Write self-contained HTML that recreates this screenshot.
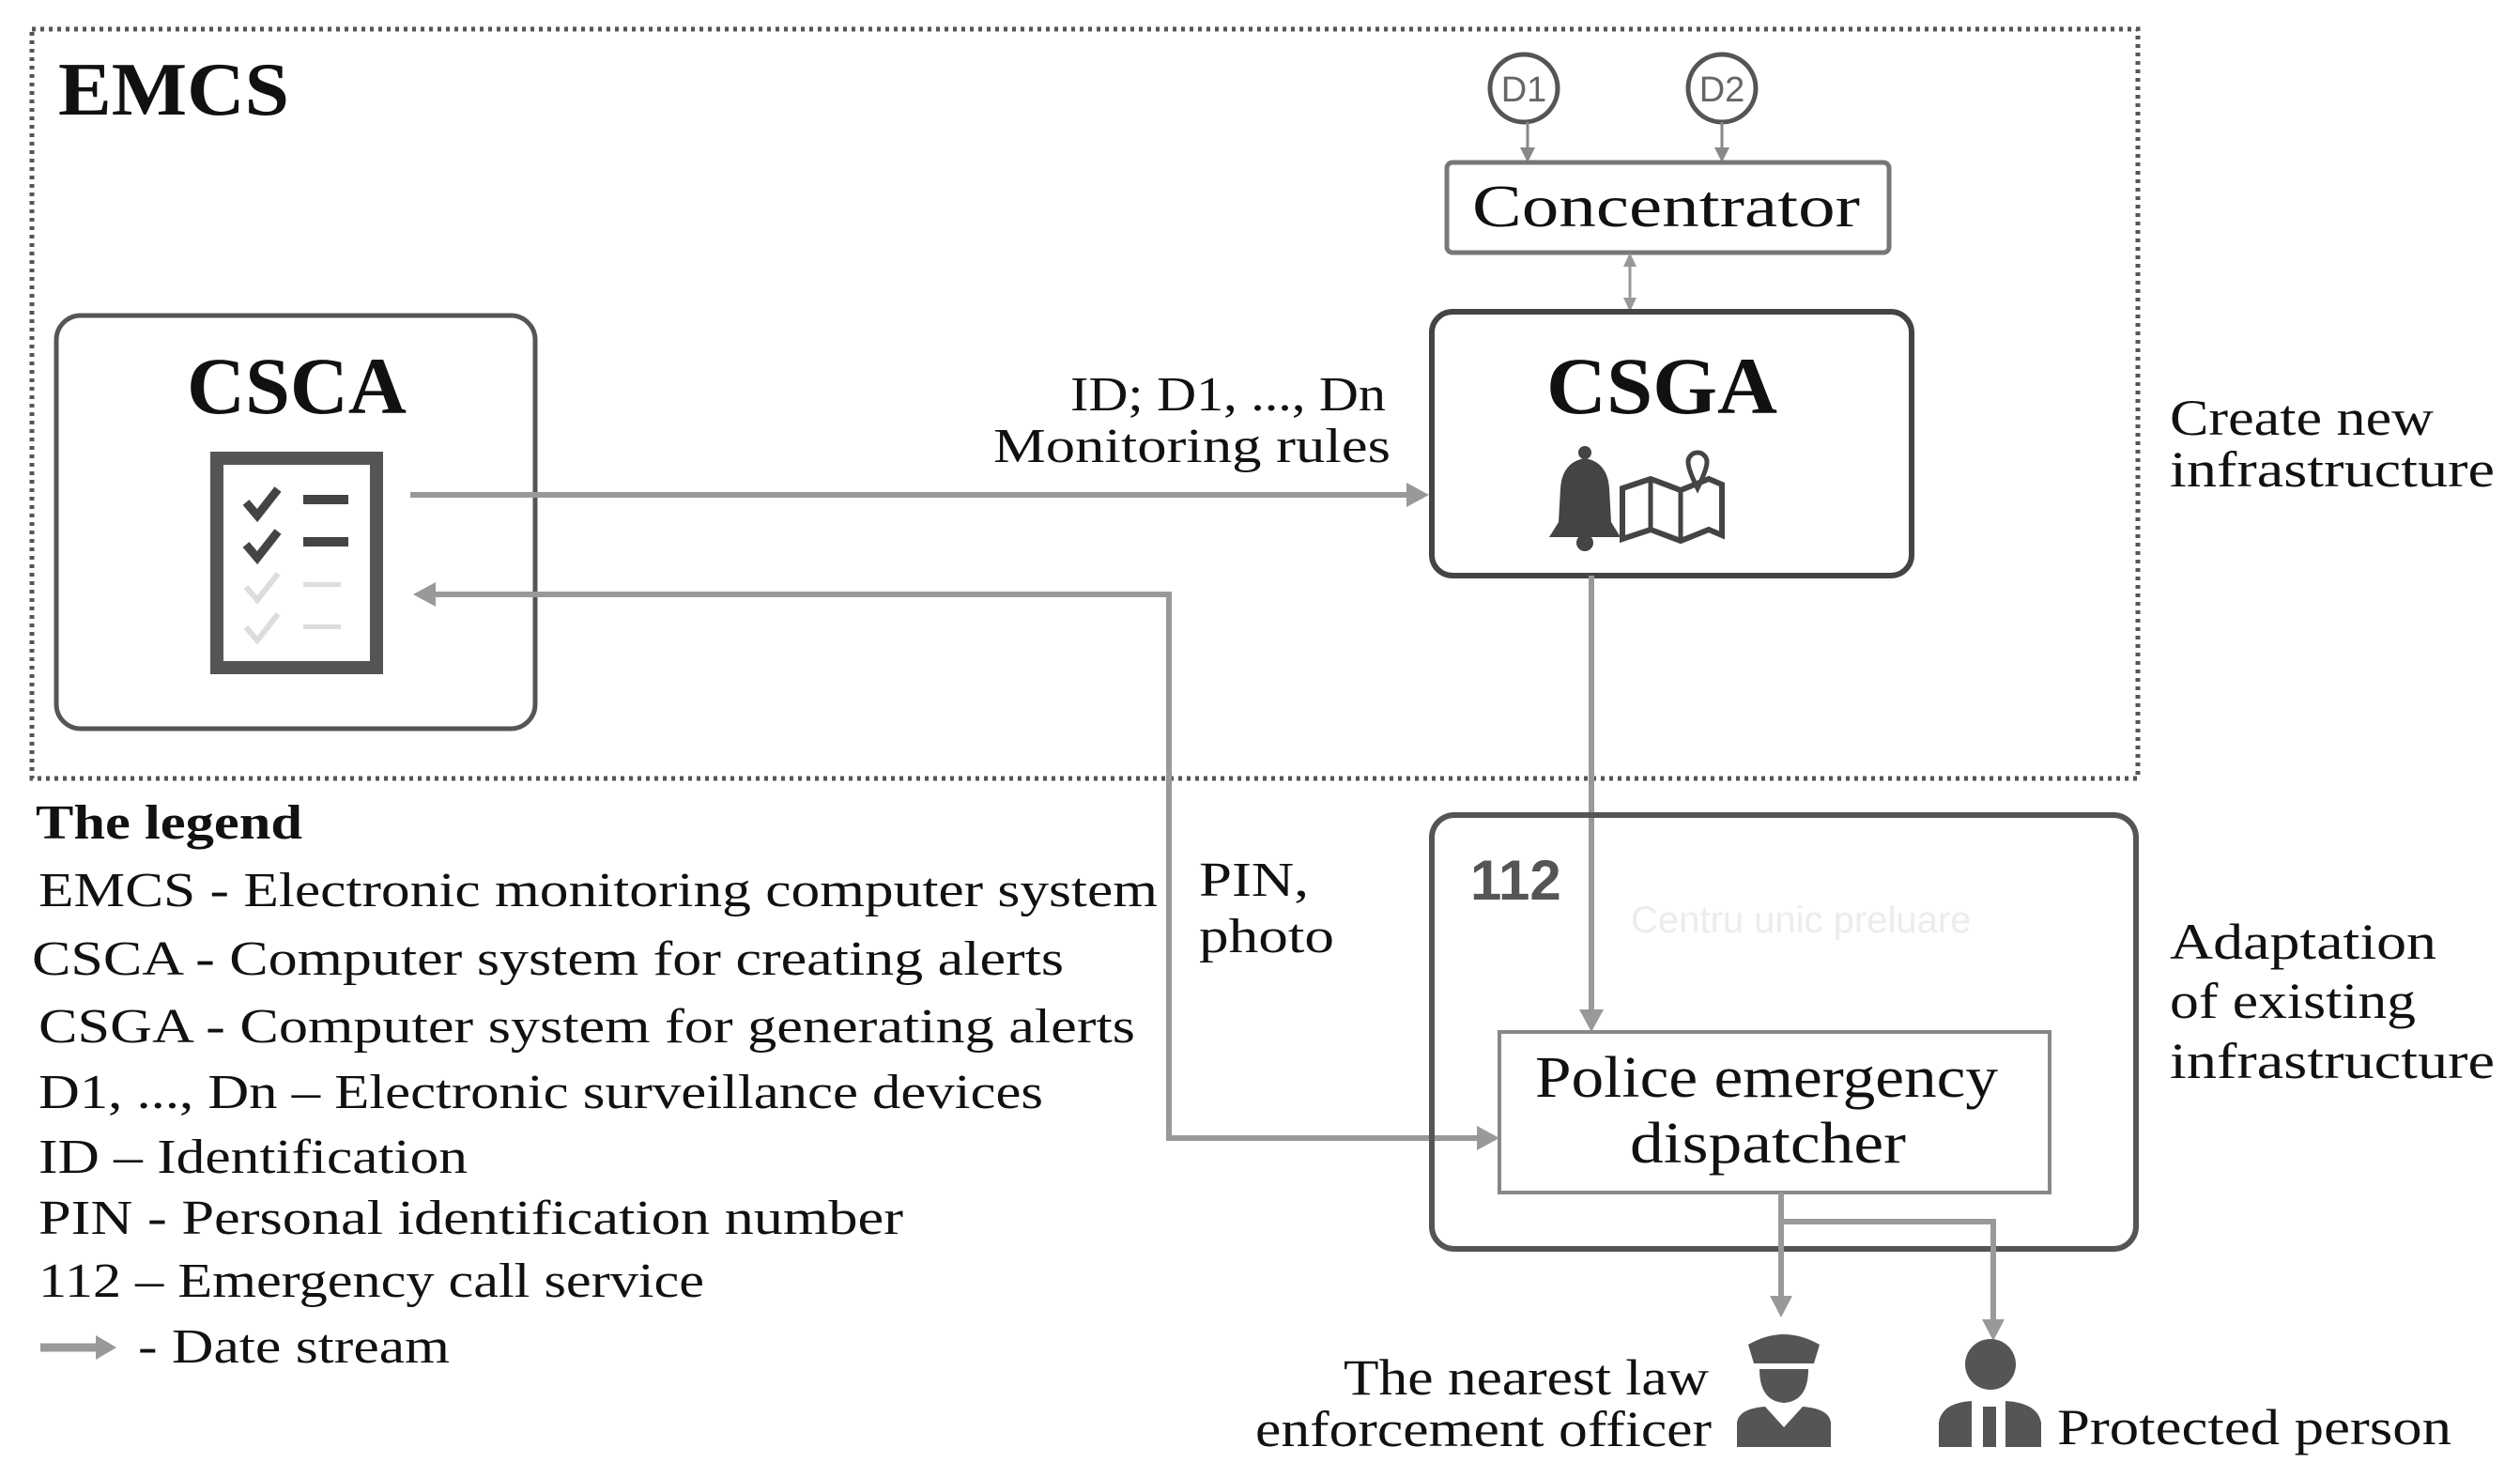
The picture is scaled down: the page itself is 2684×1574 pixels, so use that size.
<!DOCTYPE html>
<html><head><meta charset="utf-8"><style>
html,body{margin:0;padding:0;background:#fff;}
svg{display:block;}
text{font-family:"Liberation Serif",serif;fill:#111;}
</style></head><body>
<svg width="2684" height="1574" viewBox="0 0 2684 1574" xmlns="http://www.w3.org/2000/svg">
<defs>
<marker id="ah" markerWidth="10" markerHeight="10" refX="8" refY="5" orient="auto" markerUnits="userSpaceOnUse" viewBox="0 0 10 10">
</marker>
</defs>
<!-- EMCS dotted box -->
<rect x="34" y="31" width="2243" height="798" fill="none" stroke="#555" stroke-width="5" stroke-dasharray="4 5"/>
<text x="62" y="122" font-size="80" font-weight="bold" textLength="246" lengthAdjust="spacingAndGlyphs">EMCS</text>

<!-- CSCA -->
<rect x="60" y="336" width="510" height="440" rx="26" fill="none" stroke="#555" stroke-width="5"/>
<text x="199" y="440" font-size="86" font-weight="bold" textLength="234" lengthAdjust="spacingAndGlyphs">CSCA</text>
<rect x="231" y="488" width="170" height="223" fill="none" stroke="#555" stroke-width="14"/>
<path d="M262 535 l12 14 l22 -28" fill="none" stroke="#444" stroke-width="9"/>
<rect x="323" y="527" width="48" height="10" fill="#444"/>
<path d="M262 580 l12 14 l22 -28" fill="none" stroke="#444" stroke-width="9"/>
<rect x="323" y="572" width="48" height="10" fill="#444"/>
<path d="M262 625 l12 14 l22 -28" fill="none" stroke="#ddd" stroke-width="6"/>
<rect x="323" y="620" width="40" height="5" fill="#ddd"/>
<path d="M262 668 l12 14 l22 -28" fill="none" stroke="#ddd" stroke-width="6"/>
<rect x="323" y="665" width="40" height="5" fill="#ddd"/>

<!-- arrow CSCA -> CSGA -->
<line x1="437" y1="527" x2="1500" y2="527" stroke="#999" stroke-width="6"/>
<polygon points="1522,527 1498,514 1498,540" fill="#999"/>
<text x="1476" y="437" font-size="52" text-anchor="end" textLength="336" lengthAdjust="spacingAndGlyphs">ID; D1, ..., Dn</text>
<text x="1481" y="492" font-size="52" text-anchor="end" textLength="423" lengthAdjust="spacingAndGlyphs">Monitoring rules</text>

<!-- return path -->
<polyline points="1592,1212 1245,1212 1245,633 460,633" fill="none" stroke="#999" stroke-width="6"/>
<polygon points="440,633 464,620 464,646" fill="#999"/>
<polygon points="1597,1212 1573,1199 1573,1225" fill="#999"/>
<text x="1277" y="954" font-size="52" textLength="117" lengthAdjust="spacingAndGlyphs">PIN,</text>
<text x="1277" y="1014" font-size="52" textLength="144" lengthAdjust="spacingAndGlyphs">photo</text>

<!-- D1 D2 -->
<circle cx="1623" cy="94" r="36" fill="#fff" stroke="#555" stroke-width="5"/>
<text x="1623" y="108" font-size="38" text-anchor="middle" font-family="Liberation Sans" style="font-family:'Liberation Sans',sans-serif;fill:#666">D1</text>
<circle cx="1834" cy="94" r="36" fill="#fff" stroke="#555" stroke-width="5"/>
<text x="1834" y="108" font-size="38" text-anchor="middle" style="font-family:'Liberation Sans',sans-serif;fill:#666">D2</text>
<line x1="1627" y1="130" x2="1627" y2="160" stroke="#888" stroke-width="3"/>
<polygon points="1627,173 1619,157 1635,157" fill="#888"/>
<line x1="1834" y1="130" x2="1834" y2="160" stroke="#888" stroke-width="3"/>
<polygon points="1834,173 1826,157 1842,157" fill="#888"/>

<!-- Concentrator -->
<rect x="1541" y="173" width="471" height="96" rx="6" fill="#fff" stroke="#777" stroke-width="5"/>
<text x="1568" y="241" font-size="64" textLength="413" lengthAdjust="spacingAndGlyphs">Concentrator</text>
<line x1="1736" y1="282" x2="1736" y2="319" stroke="#999" stroke-width="3"/>
<polygon points="1736,269 1729,284 1743,284" fill="#999"/>
<polygon points="1736,332 1729,317 1743,317" fill="#999"/>

<!-- CSGA -->
<rect x="1525" y="332" width="511" height="281" rx="22" fill="#fff" stroke="#444" stroke-width="6"/>
<text x="1647" y="440" font-size="86" font-weight="bold" textLength="246" lengthAdjust="spacingAndGlyphs">CSGA</text>
<!-- bell -->
<path d="M1650 572 L1726 572 L1716 556 L1714 520 Q1712 492 1688 488 Q1664 492 1662 520 L1660 556 Z" fill="#444"/>
<circle cx="1688" cy="482" r="7" fill="#444"/>
<circle cx="1688" cy="578" r="9" fill="#444"/>
<!-- map -->
<path d="M1728 520 L1758 510 L1790 522 L1820 510 L1834 516 L1834 570 L1820 564 L1790 576 L1758 564 L1728 574 Z" fill="none" stroke="#444" stroke-width="6"/>
<line x1="1758" y1="510" x2="1758" y2="564" stroke="#444" stroke-width="5"/>
<line x1="1790" y1="522" x2="1790" y2="576" stroke="#444" stroke-width="5"/>
<path d="M1808 520 Q1798 500 1798 492 A10 10 0 0 1 1818 492 Q1818 500 1808 520 Z" fill="none" stroke="#444" stroke-width="5"/>

<!-- CSGA to dispatcher -->
<line x1="1695" y1="613" x2="1695" y2="1078" stroke="#999" stroke-width="6"/>
<polygon points="1695,1099 1682,1075 1708,1075" fill="#999"/>

<text x="2311" y="463" font-size="54" textLength="281" lengthAdjust="spacingAndGlyphs">Create new</text>
<text x="2311" y="518" font-size="54" textLength="346" lengthAdjust="spacingAndGlyphs">infrastructure</text>

<!-- 112 box -->
<rect x="1525" y="868" width="750" height="462" rx="24" fill="none" stroke="#555" stroke-width="6"/>
<text x="1566" y="958" font-size="60" font-weight="bold" style="font-family:'Liberation Sans',sans-serif;fill:#555">112</text>
<text x="1737" y="993" font-size="40" style="font-family:'Liberation Sans',sans-serif;fill:#ececec">Centru unic preluare</text>
<rect x="1597" y="1099" width="586" height="171" fill="#fff" stroke="#888" stroke-width="4"/>
<text x="1635" y="1168" font-size="62" textLength="493" lengthAdjust="spacingAndGlyphs">Police emergency</text>
<text x="1736" y="1238" font-size="62" textLength="294" lengthAdjust="spacingAndGlyphs">dispatcher</text>

<text x="2311" y="1021" font-size="54" textLength="284" lengthAdjust="spacingAndGlyphs">Adaptation</text>
<text x="2311" y="1084" font-size="54" textLength="262" lengthAdjust="spacingAndGlyphs">of existing</text>
<text x="2311" y="1148" font-size="54" textLength="346" lengthAdjust="spacingAndGlyphs">infrastructure</text>

<!-- outputs -->
<polyline points="1897,1270 1897,1385" fill="none" stroke="#999" stroke-width="6"/>
<polygon points="1897,1403 1885,1380 1909,1380" fill="#999"/>
<polyline points="1897,1301 2123,1301 2123,1410" fill="none" stroke="#999" stroke-width="6"/>
<polygon points="2123,1428 2111,1405 2135,1405" fill="#999"/>

<!-- officer icon -->
<path d="M1862 1432 Q1900 1410 1938 1432 L1932 1452 L1868 1452 Z" fill="#555"/>
<path d="M1874 1458 L1926 1458 Q1926 1492 1900 1494 Q1874 1492 1874 1458 Z" fill="#555"/>
<path d="M1850 1541 L1850 1515 Q1852 1500 1880 1498 L1900 1520 L1920 1498 Q1948 1500 1950 1515 L1950 1541 Z" fill="#555"/>
<!-- person icon -->
<circle cx="2120" cy="1453" r="27" fill="#555"/>
<path d="M2065 1541 L2065 1515 Q2068 1494 2100 1492 L2100 1541 Z" fill="#555"/>
<rect x="2112" y="1498" width="14" height="43" fill="#555"/>
<path d="M2136 1541 L2136 1492 Q2170 1494 2174 1515 L2174 1541 Z" fill="#555"/>

<text x="1820" y="1485" font-size="54" text-anchor="end" textLength="389" lengthAdjust="spacingAndGlyphs">The nearest law</text>
<text x="1823" y="1540" font-size="54" text-anchor="end" textLength="486" lengthAdjust="spacingAndGlyphs">enforcement officer</text>
<text x="2191" y="1538" font-size="54" textLength="420" lengthAdjust="spacingAndGlyphs">Protected person</text>

<!-- legend -->
<text x="38" y="893" font-size="52" font-weight="bold" textLength="284" lengthAdjust="spacingAndGlyphs">The legend</text>
<text x="41" y="965" font-size="52" textLength="1192" lengthAdjust="spacingAndGlyphs">EMCS - Electronic monitoring computer system</text>
<text x="34" y="1038" font-size="52" textLength="1099" lengthAdjust="spacingAndGlyphs">CSCA - Computer system for creating alerts</text>
<text x="41" y="1110" font-size="52" textLength="1168" lengthAdjust="spacingAndGlyphs">CSGA - Computer system for generating alerts</text>
<text x="41" y="1180" font-size="52" textLength="1070" lengthAdjust="spacingAndGlyphs">D1, ..., Dn – Electronic surveillance devices</text>
<text x="41" y="1249" font-size="52" textLength="457" lengthAdjust="spacingAndGlyphs">ID – Identification</text>
<text x="41" y="1314" font-size="52" textLength="921" lengthAdjust="spacingAndGlyphs">PIN - Personal identification number</text>
<text x="41" y="1381" font-size="52" textLength="709" lengthAdjust="spacingAndGlyphs">112 – Emergency call service</text>
<line x1="43" y1="1435" x2="105" y2="1435" stroke="#999" stroke-width="9"/>
<polygon points="124,1435 102,1422 102,1448" fill="#999"/>
<text x="147" y="1451" font-size="52" textLength="332" lengthAdjust="spacingAndGlyphs">- Date stream</text>
</svg>
</body></html>
